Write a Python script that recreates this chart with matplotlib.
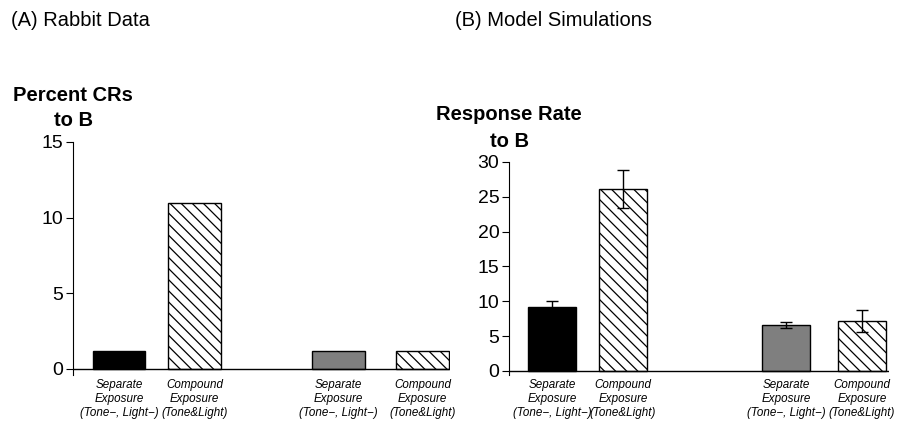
import numpy as np
import matplotlib.pyplot as plt

plt.rcParams['font.family'] = ['Liberation Sans', 'DejaVu Sans']
plt.rcParams['hatch.linewidth'] = 0.9

# data
categories = ['Separate\nExposure\n(Tone\u2212, Light\u2212)',
              'Compound\nExposure\n(Tone&Light)',
              'Separate\nExposure\n(Tone\u2212, Light\u2212)',
              'Compound\nExposure\n(Tone&Light)']
rabbit_values = [1.2, 11.0, 1.2, 1.2]
model_values = [9.2, 26.1, 6.6, 7.2]
model_errors = [0.8, 2.7, 0.4, 1.6]

# styles per bar
face_colors = ['black', 'white', '#7f7f7f', 'white']
hatches = [None, '\\\\\\', None, '\\\\\\']

fig = plt.figure(figsize=(8.97, 4.23), dpi=100)


def draw_panel(ax, pos, width, values, errors, ylim, yticks, xlim):
    bars = ax.bar(pos, values, width=width, color=face_colors, edgecolor='black',
                  linewidth=1.0, zorder=2)
    for b, h in zip(bars, hatches):
        if h:
            b.set_hatch(h)
    if errors is not None:
        ax.errorbar(pos, values, yerr=errors, fmt='none', ecolor='black',
                    elinewidth=1.0, capsize=4.5, capthick=1.0, zorder=3)
    ax.set_xlim(*xlim)
    ax.set_ylim(*ylim)
    ax.set_yticks(yticks)
    ax.tick_params(axis='y', labelsize=14, length=5, width=0.8, direction='out', pad=2)
    ax.set_xticks(pos)
    ax.set_xticklabels(categories, fontsize=8.4, style='italic', linespacing=1.22)
    ax.tick_params(axis='x', length=0, pad=3)
    for s in ['top', 'right', 'bottom']:
        ax.spines[s].set_visible(False)
    ax.spines['left'].set_linewidth(0.8)
    ax.axhline(0, color='black', linewidth=1.0, zorder=4)


# panel A
axA = fig.add_axes([73 / 897, 1 - 375 / 423, 377 / 897, 233 / 423])
draw_panel(axA, [0.0, 1.0, 2.907, 4.02], 0.70, rabbit_values, None,
           (-0.4, 15), [0, 5, 10, 15], (-0.609, 4.38))

# panel B
axB = fig.add_axes([509 / 897, 1 - 375 / 423, 380 / 897, 213 / 423])
draw_panel(axB, [0.0, 1.0, 3.30, 4.37], 0.676, model_values, model_errors,
           (-0.6, 30), [0, 5, 10, 15, 20, 25, 30], (-0.606, 4.75))

# y titles above the axes
fig.text(73 / 897, 1 - 130 / 423, 'Percent CRs\nto B', ha='center', va='bottom',
         fontsize=14.5, fontweight='bold', linespacing=1.4)
fig.text(509 / 897, 1 - 151 / 423, 'Response Rate\nto B', ha='center', va='bottom',
         fontsize=14.5, fontweight='bold', linespacing=1.5)

fig.text(11 / 897, 1 - 20 / 423, '(A) Rabbit Data', fontsize=14.5, va='center', ha='left')
fig.text(455 / 897, 1 - 20 / 423, '(B) Model Simulations', fontsize=14.5, va='center', ha='left')

fig.savefig('out.png', dpi=100)
